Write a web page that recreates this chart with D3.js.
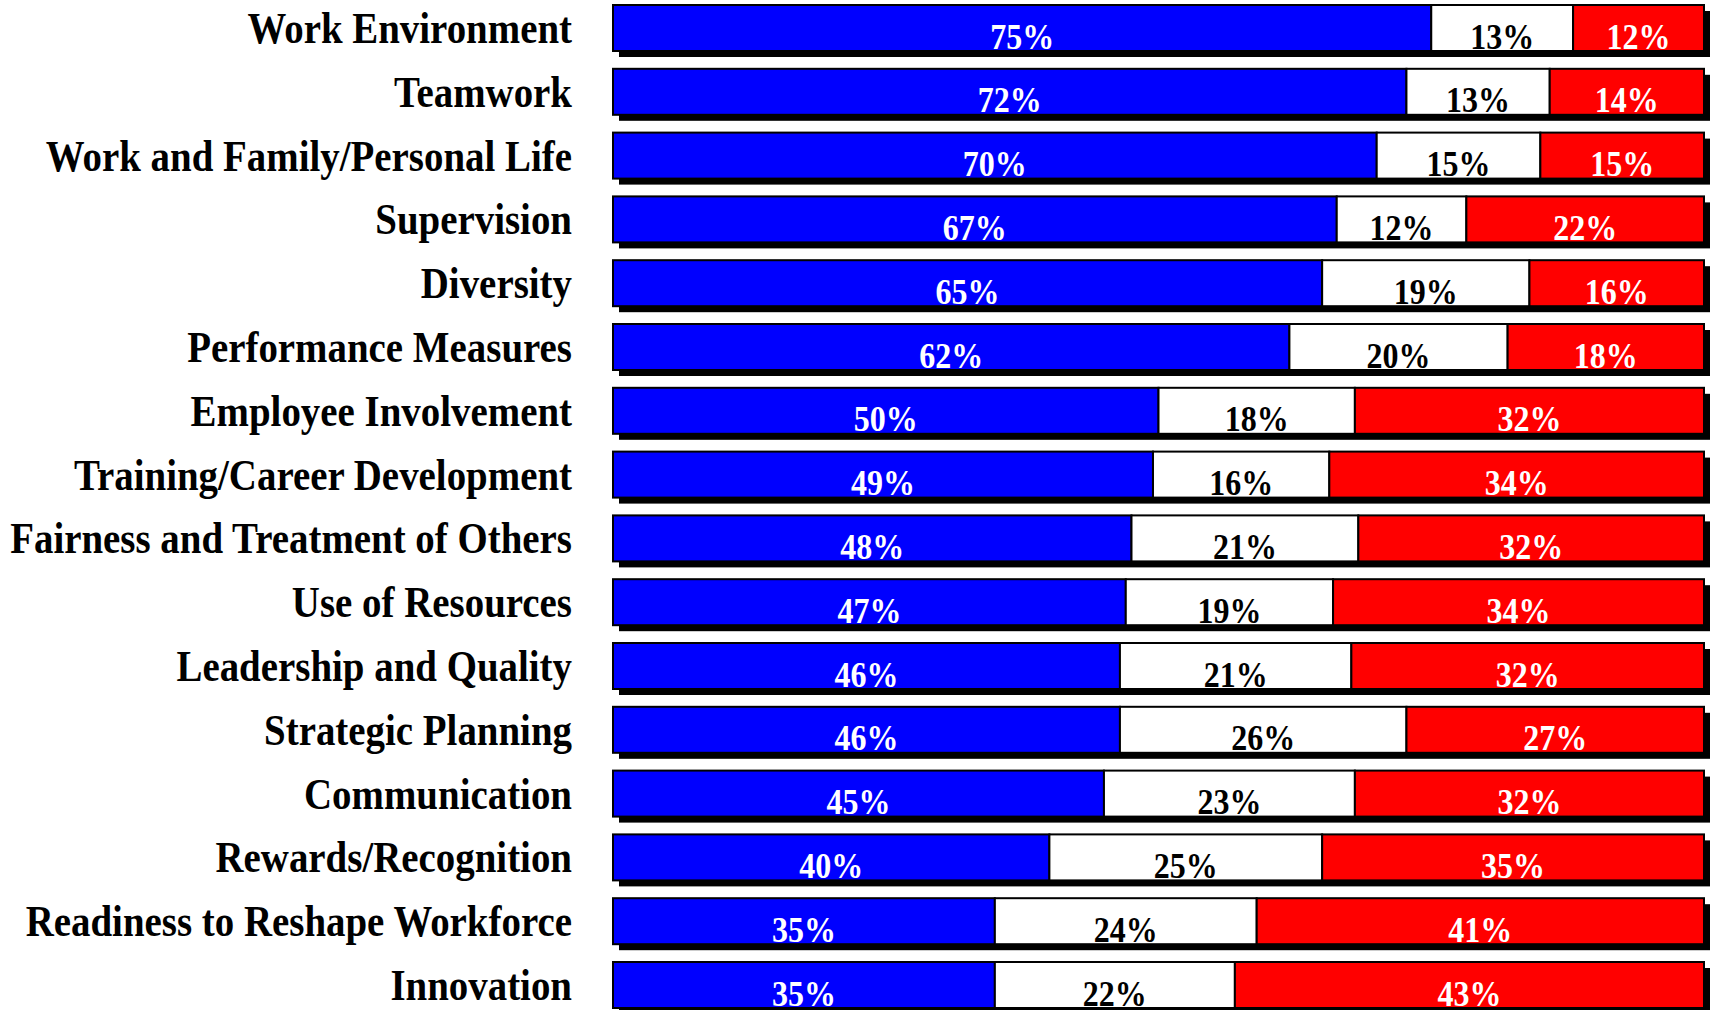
<!DOCTYPE html>
<html>
<head>
<meta charset="utf-8">
<script src="https://cdn.jsdelivr.net/npm/d3@7"></script>
<style>
  body { margin: 0; background: #fff; }
  svg { display: block; }
</style>
</head>
<body>
<div id="chart"></div>
<script>
var categories = [
  "Work Environment", "Teamwork", "Work and Family/Personal Life", "Supervision",
  "Diversity", "Performance Measures", "Employee Involvement", "Training/Career Development",
  "Fairness and Treatment of Others", "Use of Resources", "Leadership and Quality",
  "Strategic Planning", "Communication", "Rewards/Recognition",
  "Readiness to Reshape Workforce", "Innovation"
];
var positive = [75, 72, 70, 67, 65, 62, 50, 49, 48, 47, 46, 46, 45, 40, 35, 35];
var neutral  = [13, 13, 15, 12, 19, 20, 18, 16, 21, 19, 21, 26, 23, 25, 24, 22];
var negative = [12, 14, 15, 22, 16, 18, 32, 34, 32, 34, 32, 27, 32, 35, 41, 43];

var seriesKeys = ["positive", "neutral", "negative"];
var fills = { positive: "#0000ff", neutral: "#ffffff", negative: "#ff0000" };
var textFill = { positive: "#ffffff", neutral: "#000000", negative: "#ffffff" };

var width = 1711, height = 1010;

var rows = categories.map(function(c, i) {
  return { name: c, positive: positive[i], neutral: neutral[i], negative: negative[i] };
});

// each row fills the full bar, so rows that round to 99 or 101 are normalised
var stacked = d3.stack().keys(seriesKeys).offset(d3.stackOffsetExpand)(rows);

var x = d3.scaleLinear().domain([0, 1]).range([613, 1704]);
var y = d3.scaleBand().domain(categories).range([5, 1008]).paddingInner(0.279).paddingOuter(0);

var svg = d3.select("#chart").append("svg")
  .attr("width", width)
  .attr("height", height);

var defs = svg.append("defs");
defs.selectAll("clipPath")
  .data(categories)
  .enter().append("clipPath")
  .attr("id", function(d, i) { return "clip" + i; })
  .append("rect")
  .attr("x", x(0))
  .attr("y", d => y(d))
  .attr("width", x(1) - x(0))
  .attr("height", y.bandwidth() - 1);

// drop shadow behind each bar
svg.append("g")
  .selectAll("rect")
  .data(categories)
  .enter().append("rect")
  .attr("x", x(0) + 6)
  .attr("y", d => y(d) + 6)
  .attr("width", x(1) - x(0))
  .attr("height", y.bandwidth())
  .attr("fill", "#000");

var layers = svg.append("g")
  .selectAll("g")
  .data(stacked)
  .enter().append("g");

layers.selectAll("rect")
  .data(d => d.map(function(p) { p.key = d.key; return p; }))
  .enter().append("rect")
  .attr("x", d => x(d[0]))
  .attr("y", d => y(d.data.name))
  .attr("width", d => x(d[1]) - x(d[0]))
  .attr("height", y.bandwidth())
  .attr("fill", d => fills[d.key])
  .attr("stroke", "#000")
  .attr("stroke-width", 2);

// value labels, clipped at the bottom of the bar like the original
var labelGroups = layers.selectAll("g.val")
  .data(d => d)
  .enter().append("g")
  .attr("class", "val")
  .attr("clip-path", d => "url(#clip" + categories.indexOf(d.data.name) + ")");

labelGroups.append("text")
  .attr("transform", d => "translate(" + (x(d[0]) + x(d[1])) / 2 + "," + (y(d.data.name) + 43.5) + ") scale(1,1.12)")
  .attr("text-anchor", "middle")
  .attr("font-family", "'Liberation Serif', 'Times New Roman', serif")
  .attr("font-weight", "bold")
  .attr("font-size", 32)
  .attr("fill", d => textFill[d.key])
  .text(d => d.data[d.key] + "%");

// category labels
svg.append("g")
  .selectAll("text")
  .data(categories)
  .enter().append("text")
  .attr("transform", d => "translate(572," + (y(d) + 38) + ") scale(1,1.12)")
  .attr("text-anchor", "end")
  .attr("font-family", "'Liberation Serif', 'Times New Roman', serif")
  .attr("font-weight", "bold")
  .attr("font-size", 38.9)
  .attr("fill", "#000")
  .text(d => d);
</script>
</body>
</html>
